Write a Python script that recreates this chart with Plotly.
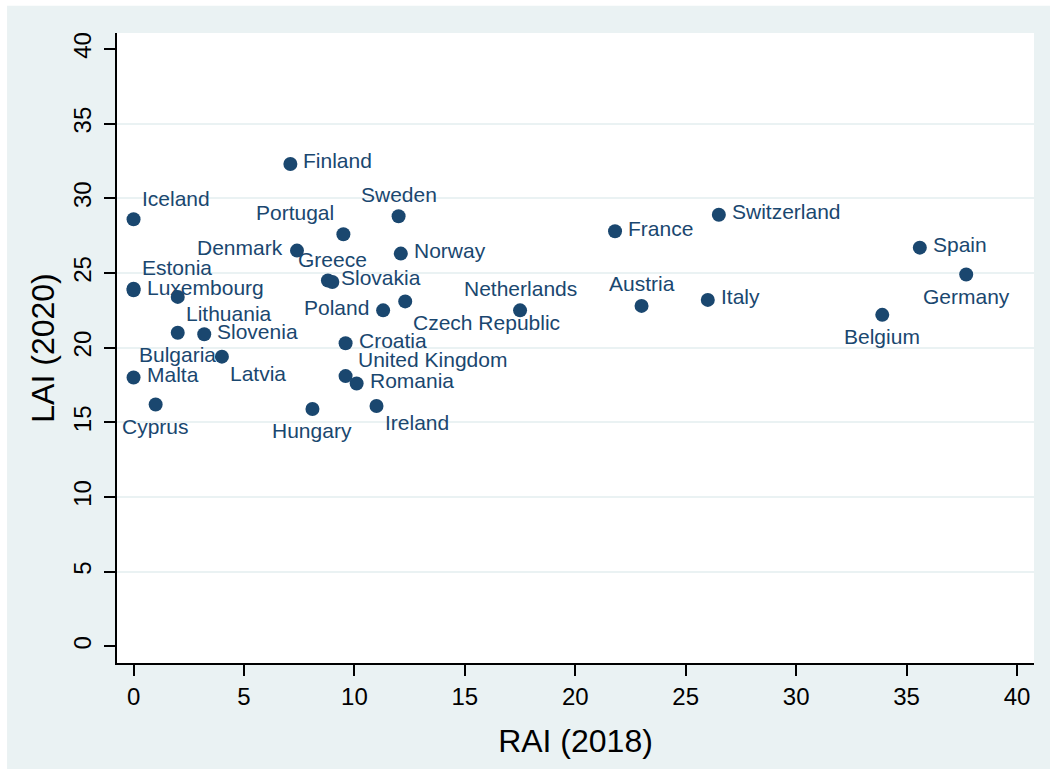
import plotly.graph_objects as go

# Regional Authority Index (2018) vs Local Autonomy Index (2020)
countries = [
    "Finland", "Iceland", "Sweden", "Portugal", "Denmark", "Norway",
    "Slovakia", "Greece", "Estonia", "Luxembourg", "Lithuania", "Bulgaria",
    "Slovenia", "Latvia", "Malta", "Cyprus", "Hungary", "Croatia",
    "United Kingdom", "Romania", "Ireland", "Poland", "Czech Republic",
    "Netherlands", "France", "Austria", "Switzerland", "Italy", "Belgium",
    "Spain", "Germany",
]
rai_2018 = [
    7.1, 0.0, 12.0, 9.5, 7.4, 12.1,
    8.8, 9.0, 0.0, 0.0, 2.0, 2.0,
    3.2, 4.0, 0.0, 1.0, 8.1, 9.6,
    9.6, 10.1, 11.0, 11.3, 12.3,
    17.5, 21.8, 23.0, 26.5, 26.0, 33.9,
    35.6, 37.7,
]
lai_2020 = [
    32.3, 28.6, 28.8, 27.6, 26.5, 26.3,
    24.5, 24.4, 23.95, 23.85, 23.4, 21.0,
    20.9, 19.4, 18.0, 16.2, 15.9, 20.3,
    18.1, 17.6, 16.1, 22.5, 23.1,
    22.5, 27.8, 22.8, 28.9, 23.2, 22.2,
    26.7, 24.9,
]
axis_ticks = [0, 5, 10, 15, 20, 25, 30, 35, 40]
grid_levels = [5, 10, 15, 20, 25, 30, 35]

# marker-label placement, clock-face style
label_clock = {
    "Finland": 3, "Iceland": 1, "Sweden": 12, "Portugal": 11, "Denmark": 9,
    "Norway": 3, "Slovakia": 3, "Greece": 12, "Estonia": 1, "Luxembourg": 3,
    "Lithuania": 4, "Bulgaria": 6, "Slovenia": 3, "Latvia": 4, "Malta": 3,
    "Cyprus": 6, "Hungary": 6, "Croatia": 3, "United Kingdom": 2,
    "Romania": 3, "Ireland": 4, "Poland": 9, "Czech Republic": 5,
    "Netherlands": 12, "France": 3, "Austria": 12, "Switzerland": 3,
    "Italy": 3, "Belgium": 6, "Spain": 3, "Germany": 6,
}
clock_style = {
    3: ("left", 11, 3),
    12: ("center", 0, 22),
    6: ("center", 0, -22),
    9: ("right", -12, 3),
    1: ("left", 6, 21),
    2: ("left", 10, 17),
    4: ("left", 6, -17),
    5: ("left", 6, -21),
    11: ("right", -7, 22),
}

NAVY = "#1a476f"
BG = "#eaf2f3"
FONT = "Arial, Liberation Sans, sans-serif"

fig = go.Figure()
fig.add_trace(go.Scatter(
    x=rai_2018, y=lai_2020, mode="markers", text=countries,
    marker=dict(size=14, color=NAVY, line=dict(width=0)),
    hoverinfo="text+x+y", showlegend=False,
))

annotations = []
for name, xv, yv in zip(countries, rai_2018, lai_2020):
    anchor, dx, dy = clock_style[label_clock[name]]
    annotations.append(dict(
        x=xv, y=yv, xref="x", yref="y", text=name, showarrow=False,
        xanchor=anchor, yanchor="middle", xshift=dx, yshift=dy,
        font=dict(family=FONT, size=21, color=NAVY),
    ))

fig.update_layout(
    width=1050, height=769,
    margin=dict(l=117, r=16, t=33, b=106, pad=0),
    paper_bgcolor=BG, plot_bgcolor="white",
    font=dict(family=FONT, color="black"),
    annotations=annotations,
    shapes=[
        # thin white border along the top and left of the graph region
        dict(type="rect", xref="paper", yref="paper", x0=-0.2, x1=1.1,
             y0=1.0432, y1=1.2, fillcolor="white", line=dict(width=0), layer="below"),
        dict(type="rect", xref="paper", yref="paper", x0=-0.2, x1=-0.1199,
             y0=-0.3, y1=1.2, fillcolor="white", line=dict(width=0), layer="below"),
    ],
)

fig.update_xaxes(
    range=[-0.75, 40.77], tickvals=axis_ticks, ticks="outside", ticklen=11,
    tickwidth=1.5, tickcolor="black", showline=True, linecolor="black",
    linewidth=1.5, showgrid=False, zeroline=False, mirror=False,
    tickfont=dict(size=24, color="black", family=FONT),
    title=dict(text="RAI (2018)", font=dict(size=32, color="black", family=FONT),
               standoff=21),
)
fig.update_yaxes(
    range=[-1.11, 41.07], tickvals=axis_ticks, ticks="outside", ticklen=11,
    tickwidth=1.5, tickcolor="black", showline=True, linecolor="black",
    linewidth=1.5, showgrid=False, zeroline=False, mirror=False,
    tickangle=-90, ticklabelstandoff=4,
    tickfont=dict(size=24, color="black", family=FONT),
    minor=dict(tickvals=grid_levels, showgrid=True, gridcolor=BG,
               gridwidth=2, ticks=""),
    title=dict(text="LAI (2020)", font=dict(size=32, color="black", family=FONT),
               standoff=4),
)

fig.write_html("out.html")
